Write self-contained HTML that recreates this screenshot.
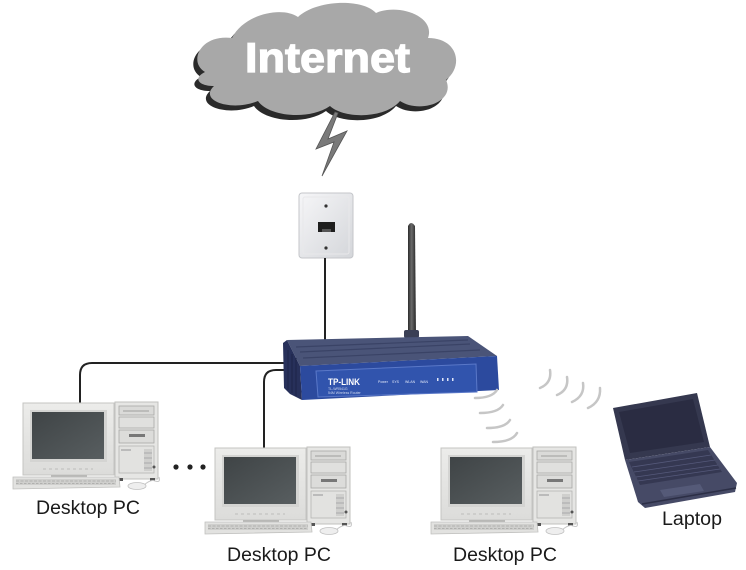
<!DOCTYPE html>
<html><head><meta charset="utf-8"><style>
html,body{margin:0;padding:0;background:#fff;}
svg{display:block;}
text{font-family:"Liberation Sans",Arial,sans-serif;}
</style></head><body>
<svg width="746" height="570" viewBox="0 0 746 570" xmlns="http://www.w3.org/2000/svg">
<defs>
<linearGradient id="plate" x1="0" y1="0" x2="1" y2="1"><stop offset="0" stop-color="#f6f6f8"/><stop offset="1" stop-color="#d4d6da"/></linearGradient>
<linearGradient id="ant" x1="0" y1="0" x2="1" y2="0"><stop offset="0" stop-color="#2c2c2c"/><stop offset="0.45" stop-color="#6a6a6a"/><stop offset="1" stop-color="#262626"/></linearGradient>
<linearGradient id="scr" x1="0" y1="0" x2="1" y2="1"><stop offset="0" stop-color="#3f4446"/><stop offset="1" stop-color="#585e60"/></linearGradient>
<linearGradient id="mon" x1="0" y1="0" x2="0" y2="1"><stop offset="0" stop-color="#ececea"/><stop offset="1" stop-color="#dcdcda"/></linearGradient>
<g id="pc">
  <rect x="92" y="-1" width="43" height="77" fill="#e6e6e4" stroke="#c0c0be" stroke-width="1"/>
  <rect x="96" y="3" width="35" height="9" fill="#dadad8" stroke="#a8a8a6" stroke-width="0.8"/>
  <line x1="100" y1="8" x2="126" y2="8" stroke="#888" stroke-width="0.8"/>
  <rect x="96" y="14" width="35" height="11" fill="#e0e0de" stroke="#a8a8a6" stroke-width="0.8"/>
  <rect x="96" y="27" width="35" height="13" fill="#dcdcda" stroke="#a8a8a6" stroke-width="0.8"/>
  <rect x="106" y="31" width="16" height="3" fill="#777"/>
  <rect x="96" y="43" width="35" height="27" fill="#e2e2e0" stroke="#b4b4b2" stroke-width="0.8"/>
  <rect x="121" y="46" width="8" height="22" fill="#cfcfcd"/>
  <line x1="121" y1="50" x2="129" y2="50" stroke="#aaa"/><line x1="121" y1="55" x2="129" y2="55" stroke="#aaa"/><line x1="121" y1="60" x2="129" y2="60" stroke="#aaa"/><line x1="121" y1="65" x2="129" y2="65" stroke="#aaa"/>
  <rect x="98" y="46" width="10" height="2" fill="#bbb"/>
  <circle cx="131" cy="64" r="1.5" fill="#555"/>
  <rect x="95" y="75" width="5" height="3" fill="#555"/><rect x="127" y="75" width="5" height="3" fill="#555"/>
  <rect x="0" y="0" width="91" height="72" fill="url(#mon)" stroke="#c4c4c2" stroke-width="1"/>
  <rect x="7" y="7" width="77" height="52" fill="#d4d4d2"/>
  <rect x="9" y="9" width="72" height="47" fill="url(#scr)"/>
  <line x1="20" y1="66" x2="70" y2="66" stroke="#c8c8c6" stroke-width="1.5" stroke-dasharray="3 3"/>
  <rect x="28" y="72" width="36" height="3" fill="#b8b8b6"/>
  <polygon points="-10,74 96,74 97,84 -10,86" fill="#e2e2e0" stroke="#c0c0be" stroke-width="0.8"/>
  <rect x="-7" y="76" width="100" height="6" fill="#cfcfcd"/>
  <line x1="-7" y1="78" x2="93" y2="78" stroke="#b0b0ae" stroke-width="1" stroke-dasharray="3 1.5"/>
  <line x1="-7" y1="80.5" x2="93" y2="80.5" stroke="#b0b0ae" stroke-width="1" stroke-dasharray="2.5 1.5"/>
  <path d="M121,82 Q128,76 132,78 Q138,80 136,74" fill="none" stroke="#c8c8c8" stroke-width="1"/>
  <ellipse cx="114" cy="83" rx="9" ry="3.5" fill="#eeeeee" stroke="#c0c0c0" stroke-width="0.8"/>
</g>
</defs>

<g transform="translate(-4,5)">
<path d="M205,72 C188,62 200,34 232,38 C244,14 282,6 298,17 C316,0 362,-2 376,13 C398,3 436,16 428,38 C458,38 464,66 446,80 C456,102 420,114 400,101 C385,119 344,119 330,106 C308,121 268,116 258,101 C232,112 198,101 214,86 C198,86 193,78 205,72 Z" fill="#2a2a2a"/>
</g>
<path d="M205,72 C188,62 200,34 232,38 C244,14 282,6 298,17 C316,0 362,-2 376,13 C398,3 436,16 428,38 C458,38 464,66 446,80 C456,102 420,114 400,101 C385,119 344,119 330,106 C308,121 268,116 258,101 C232,112 198,101 214,86 C198,86 193,78 205,72 Z" fill="#a8a8a8"/>
<text x="245" y="72" font-size="42" font-weight="bold" fill="#ffffff" stroke="#ffffff" stroke-width="1.2" textLength="165" lengthAdjust="spacingAndGlyphs">Internet</text>

<polygon points="335,112 316,149 334,142 322,176 347,131 328,139 338,113" fill="#7a7a7a" stroke="#555" stroke-width="0.8"/>

<rect x="299" y="193" width="54" height="65" rx="3" fill="url(#plate)" stroke="#c4c6ca" stroke-width="1"/>
<rect x="303" y="197" width="46" height="57" rx="2" fill="none" stroke="#e8e8ea" stroke-width="1"/>
<circle cx="326" cy="206" r="1.6" fill="#333"/>
<circle cx="326" cy="248" r="1.6" fill="#333"/>
<rect x="318" y="222" width="17" height="10" fill="#1e1e1e"/>
<rect x="322" y="229" width="9" height="3" fill="#555"/>

<path d="M325,258 L325,340" stroke="#222" stroke-width="2" fill="none"/>
<path d="M286,363 L92,363 Q80,363 80,375 L80,404" stroke="#222" stroke-width="2" fill="none"/>
<path d="M288,370 L276,370 Q264,370 264,382 L264,449" stroke="#222" stroke-width="2" fill="none"/>

<path d="M408,338 L408,226 Q411,220 415,226 L416,338 Z" fill="url(#ant)"/>
<rect x="404" y="330" width="15" height="8" rx="2" fill="#3a3f55"/>

<polygon points="287,340 468,336 497,356 300,366" fill="#4a5478"/>
<g stroke="#3a4366" stroke-width="1.2">
<line x1="300" y1="352" x2="470" y2="344"/>
<line x1="296" y1="347" x2="468" y2="340"/>
<line x1="303" y1="358" x2="480" y2="350"/>
</g>
<polygon points="283,343 287,340 300,366 302,400 290,394 284,388" fill="#27305a"/>
<g stroke="#1c2448" stroke-width="1">
<line x1="288" y1="350" x2="288" y2="390"/><line x1="292" y1="354" x2="292" y2="393"/><line x1="296" y1="358" x2="296" y2="396"/>
</g>
<polygon points="300,366 497,356 499,390 302,400" fill="#2c4a9e"/>
<polygon points="316,371 476,364 477,392 318,397" fill="#3154ad" stroke="#5a78c8" stroke-width="1"/>
<text x="328" y="385" font-size="9" font-weight="bold" fill="#ffffff" textLength="32" lengthAdjust="spacingAndGlyphs">TP-LINK</text>
<text x="328" y="390" font-size="3.5" fill="#cfd8f0">TL-WR541G</text>
<text x="328" y="394" font-size="3.5" fill="#cfd8f0">54M Wireless Router</text>
<g font-size="3.5" fill="#dfe6f8">
<text x="378" y="383">Power</text><text x="392" y="383">SYS</text><text x="405" y="383">WLAN</text><text x="420" y="383">WAN</text>
</g>
<g fill="#dfe6f8"><rect x="437" y="378" width="1.5" height="3"/><rect x="442" y="378" width="1.5" height="3"/><rect x="447" y="378" width="1.5" height="3"/><rect x="452" y="378" width="1.5" height="3"/></g>

<g fill="none" stroke="#c6c6c6" stroke-width="2.5" stroke-linecap="round">
<path d="M475,398 Q492,398 497,390"/>
<path d="M480,413 Q498,413 503,405"/>
<path d="M487,428 Q505,428 510,420"/>
<path d="M493,442 Q512,442 517,433"/>
<path d="M540,388 Q552,383 550,370"/>
<path d="M557,395 Q569,390 567,377"/>
<path d="M572,402 Q585,396 583,383"/>
<path d="M588,408 Q601,402 600,388"/>
</g>

<use href="#pc" x="23" y="403"/>
<use href="#pc" x="215" y="448"/>
<use href="#pc" x="441" y="448"/>

<circle cx="176" cy="467" r="2.6" fill="#222"/>
<circle cx="190" cy="467" r="2.6" fill="#222"/>
<circle cx="203" cy="467" r="2.6" fill="#222"/>

<polygon points="613,408 697,393 710,447 625,460" fill="#35384f"/>
<polygon points="619,412 693,399 704,442 630,453" fill="#2a2c42"/>
<polygon points="625,460 710,447 737,483 735,492 645,508 638,502" fill="#464a66"/>
<polygon points="629,462 708,450 722,472 640,485" fill="#353852"/>
<g stroke="#55597a" stroke-width="0.8">
<line x1="632" y1="467" x2="711" y2="455"/><line x1="634" y1="472" x2="715" y2="460"/><line x1="636" y1="477" x2="718" y2="465"/><line x1="638" y1="481" x2="720" y2="469"/>
</g>
<polygon points="660,490 700,484 704,491 664,497" fill="#555a78"/>
<line x1="642" y1="504" x2="736" y2="488" stroke="#2c2f46" stroke-width="1.5"/>

<g font-size="19" fill="#1a1a1a">
<text x="36" y="514" textLength="104" lengthAdjust="spacingAndGlyphs">Desktop PC</text>
<text x="227" y="561" textLength="104" lengthAdjust="spacingAndGlyphs">Desktop PC</text>
<text x="453" y="561" textLength="104" lengthAdjust="spacingAndGlyphs">Desktop PC</text>
<text x="662" y="525" textLength="60" lengthAdjust="spacingAndGlyphs">Laptop</text>
</g>
</svg>
</body></html>
